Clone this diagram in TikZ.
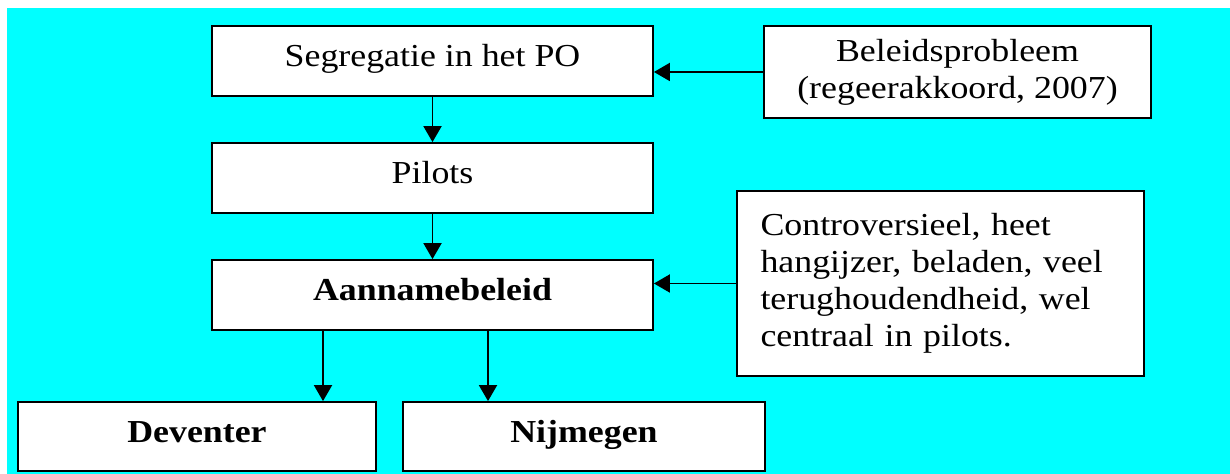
\documentclass[tikz,border=0pt]{standalone}
\usepackage{fontspec}
\setmainfont{Liberation Serif}[FakeStretch=1.12]
\usetikzlibrary{arrows.meta}
\definecolor{bgcyan}{RGB}{0,255,255}
\tikzset{
  box/.style={draw=black, line width=0.9pt, fill=white, inner sep=0pt, align=center, font=\fontsize{16}{18.5}\selectfont},
  onebox/.style={box, text height=0.8em, text depth=0.2em},
  arr/.style={line width=0.95pt, -{Triangle[width=9pt,length=8pt]}}
}
\begin{document}
\begin{tikzpicture}[x=0.5pt,y=-0.5pt]
\useasboundingbox (0,0) rectangle (1230,474);
\fill[bgcyan] (7,8) rectangle (1230,474);
\node[onebox, minimum width=220.5pt, minimum height=35pt] (seg) at (432.5,61) {Segregatie in het PO};
\node[onebox, minimum width=220.5pt, minimum height=35pt] (pil) at (432.5,178) {Pilots};
\node[onebox, minimum width=220.5pt, minimum height=35pt] (aan) at (432.5,295) {\textbf{Aannamebeleid}};
\node[box, minimum width=193.5pt, minimum height=46pt] (bel) at (957.5,72) {Beleidsprobleem\\(regeerakkoord, 2007)};
\node[box, minimum width=203.5pt, minimum height=92.5pt, align=left, text width=180pt] (con) at (940.5,283.5) {Controversieel, heet\\hangijzer, beladen, veel\\terughoudendheid, wel\\centraal in pilots.\\[5pt]};
\node[onebox, minimum width=179pt, minimum height=34.5pt] (dev) at (197,436.5) {\textbf{Deventer}};
\node[onebox, minimum width=181pt, minimum height=34.5pt] (nij) at (584,436.5) {\textbf{Nijmegen}};
\coordinate (xd) at (323,0);
\coordinate (xn) at (488,0);
\draw[arr] (seg.south) -- (pil.north);
\draw[arr] (pil.south) -- (aan.north);
\draw[arr] (bel.west) -- (bel.west -| seg.east);
\draw[arr] (con.west) -- (con.west -| aan.east);
\draw[arr] (aan.south -| xd) -- (dev.north -| xd);
\draw[arr] (aan.south -| xn) -- (nij.north -| xn);
\end{tikzpicture}
\end{document}
